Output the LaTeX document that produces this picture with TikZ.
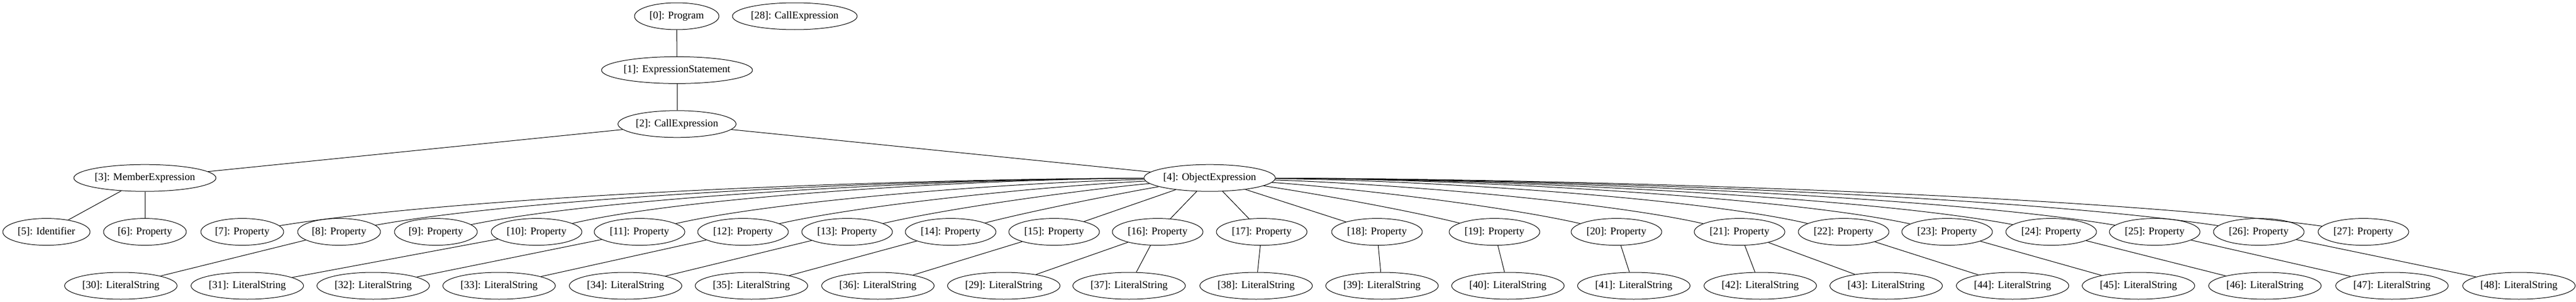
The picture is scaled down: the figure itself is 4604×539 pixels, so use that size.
\documentclass[tikz,border=0pt]{standalone}
\usepackage{fontspec}
\setmainfont{Liberation Serif}
\usetikzlibrary{shapes.geometric}
\begin{document}
\begin{tikzpicture}[x=0.75pt,y=-0.75pt,
  nd/.style={draw, ellipse, line width=0.75pt, inner sep=0pt, minimum height=36pt, font=\fontsize{14pt}{16pt}\selectfont},
  pa/.style={nd, minimum width=111pt},
  pb/.style={nd, minimum width=121.5pt},
  ls/.style={nd, minimum width=150.75pt},
  ed/.style={line width=0.75pt}]
\useasboundingbox (0,0) rectangle (4604,539);
% nodes
\node[nd, minimum width=113.25pt] (n0) at (1209.5,29) {[0]: Program};
\node[nd, minimum width=167.25pt] (n28) at (1420.5,29) {[28]: CallExpression};
\node[nd, minimum width=201.75pt] (n1) at (1210,125.4) {[1]: ExpressionStatement};
\node[nd, minimum width=158.25pt] (n2) at (1210,221.8) {[2]: CallExpression};
\node[nd, minimum width=190.5pt] (n3) at (259,318.2) {[3]: MemberExpression};
\node[nd, minimum width=175.5pt] (n4) at (2162,318.2) {[4]: ObjectExpression};
\node[nd, minimum width=117pt] (n5) at (83,414.6) {[5]: Identifier};
\foreach \i/\x in {6/259,7/433,8/606,9/779}
  \node[pa] (n\i) at (\x,414.6) {[\i]: Property};
\foreach \i/\x in {10/959,11/1143,12/1328,13/1514,14/1699,15/1884,16/2069,17/2255,18/2461,19/2671,20/2889,21/3109,22/3295,23/3480,24/3666,25/3851,26/4037,27/4224}
  \node[pb] (n\i) at (\x,414.6) {[\i]: Property};
\foreach \i/\x in {30/216,31/442,32/667,33/892,34/1118,35/1343,36/1569,29/1794,37/2018,38/2245,39/2470,40/2695,41/2920,42/3146,43/3371,44/3597,45/3822,46/4048,47/4275,48/4502}
  \node[ls] (n\i) at (\x,511) {[\i]: LiteralString};
% edges
\draw[ed] (n0) -- (n1);
\draw[ed] (n1) -- (n2);
\draw[ed] (n2) -- (n3);
\draw[ed] (n2) -- (n4);
\draw[ed] (n3) -- (n5);
\draw[ed] (n3) -- (n6);
\foreach \a/\b in {8/30,10/31,11/32,12/33,13/34,14/35,15/36,16/29,16/37,17/38,18/39,19/40,20/41,21/42,21/43,22/44,23/45,24/46,25/47,26/48}
  \draw[ed] (n\a) -- (n\b);
\foreach \c/\x in {7/433,8/606,9/779,10/959,11/1143,12/1328,13/1514,14/1699,15/1884,16/2069,17/2255,18/2461,19/2671,20/2889,21/3109,22/3295,23/3480,24/3666,25/3851,26/4037,27/4224}{
  \pgfmathsetmacro\fdx{\x-2162}
  \pgfmathsetmacro\fb{max(0,min(1,(abs(\fdx)-300)/900))}
  \pgfmathsetmacro\fax{2162+(0.3333+0.0167*\fb)*\fdx}
  \pgfmathsetmacro\fay{318.2+(0.3333-0.3133*\fb)*96.4}
  \pgfmathsetmacro\fcx{2162+(0.6667+0.1133*\fb)*\fdx}
  \pgfmathsetmacro\fcy{318.2+(0.6667-0.3167*\fb)*96.4}
  \draw[ed] (n4) .. controls (\fax,\fay) and (\fcx,\fcy) .. (n\c);
}
\end{tikzpicture}
\end{document}
